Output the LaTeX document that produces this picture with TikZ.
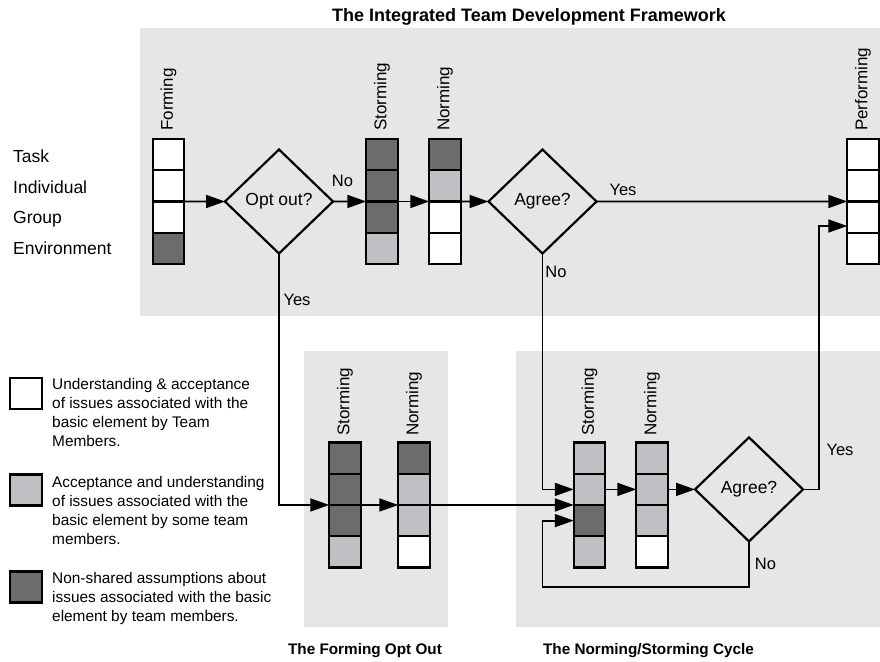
\documentclass[tikz,border=0pt]{standalone}
\usepackage{fontspec}
\setmainfont{Liberation Sans}
\usetikzlibrary{shapes.geometric, arrows.meta}
\definecolor{panelgray}{RGB}{230,230,230}
\definecolor{darkcell}{RGB}{108,108,108}
\definecolor{lightcell}{RGB}{191,192,195}
\tikzset{
  cell/.style={draw, line width=2.2pt, rectangle, minimum width=31.5pt, minimum height=31.25pt, inner sep=0pt, outer sep=0pt},
  wcell/.style={cell, fill=white},
  lcell/.style={cell, fill=lightcell},
  dcell/.style={cell, fill=darkcell},
  decision/.style={draw, line width=2.2pt, diamond, minimum width=108pt, minimum height=104pt, inner sep=0pt, outer sep=0pt, font=\fontsize{17.5}{20}\selectfont},
  stagelabel/.style={rotate=90, anchor=west, inner sep=0pt, font=\fontsize{17}{20}\selectfont},
  rowlabel/.style={anchor=base west, inner sep=0pt, font=\fontsize{17.5}{20}\selectfont},
  answer/.style={inner sep=0pt, font=\fontsize{16.5}{19}\selectfont},
  legendtext/.style={anchor=north west, align=left, inner sep=0pt, font=\fontsize{15.4}{19}\selectfont},
  heading/.style={anchor=base, inner sep=0pt, font=\bfseries\fontsize{18}{21}\selectfont},
  subheading/.style={anchor=base, inner sep=0pt, font=\bfseries\fontsize{15.3}{18}\selectfont},
  flow/.style={line width=1.8pt, -{Triangle[length=19pt, width=13pt]}},
}
\begin{document}
\begin{tikzpicture}[x=1pt, y=-1pt]
\useasboundingbox (0,0) rectangle (880,661);
\fill[white] (0,0) rectangle (880,661);
% panels
\fill[panelgray] (140,28) rectangle (880,316);
\fill[panelgray] (304,351) rectangle (448,627);
\fill[panelgray] (516,351) rectangle (880,627);
\node[heading] (title) at (529,22) {The Integrated Team Development Framework};
\node[subheading] (optouttitle) at (365,654) {The Forming Opt Out};
\node[subheading] (cycletitle) at (648.5,654) {The Norming/Storming Cycle};
% element names
\node[rowlabel] (task) at (13,162) {Task};
\node[rowlabel] (indiv) at (13,193) {Individual};
\node[rowlabel] (group) at (13,223.5) {Group};
\node[rowlabel] (env) at (13,254) {Environment};
% top row
\node[wcell] (f1) at (168.5,154.6) {};
\node[wcell] (f2) at (168.5,185.9) {};
\node[wcell] (f3) at (168.5,217.1) {};
\node[dcell] (f4) at (168.5,248.4) {};
\node[stagelabel] (flab) at (168.5,131) {Forming};
\node[decision] (opt) at (279,201.5) {Opt out?};
\node[dcell] (s1) at (382,154.6) {};
\node[dcell] (s2) at (382,185.9) {};
\node[dcell] (s3) at (382,217.1) {};
\node[lcell] (s4) at (382,248.4) {};
\node[stagelabel] (slab) at (382,131) {Storming};
\node[dcell] (n1) at (445,154.6) {};
\node[lcell] (n2) at (445,185.9) {};
\node[wcell] (n3) at (445,217.1) {};
\node[wcell] (n4) at (445,248.4) {};
\node[stagelabel] (nlab) at (445,131) {Norming};
\node[decision] (agree1) at (542.5,201.5) {Agree?};
\node[wcell] (p1) at (863,154.6) {};
\node[wcell] (p2) at (863,185.9) {};
\node[wcell] (p3) at (863,217.1) {};
\node[wcell] (p4) at (863,248.4) {};
\node[stagelabel] (plab) at (863,131) {Performing};
% forming opt out
\node[dcell] (os1) at (345,458.1) {};
\node[dcell] (os2) at (345,489.4) {};
\node[dcell] (os3) at (345,520.6) {};
\node[lcell] (os4) at (345,551.9) {};
\node[stagelabel] (oslab) at (345,436) {Storming};
\node[dcell] (on1) at (414,458.1) {};
\node[lcell] (on2) at (414,489.4) {};
\node[lcell] (on3) at (414,520.6) {};
\node[wcell] (on4) at (414,551.9) {};
\node[stagelabel] (onlab) at (414,436) {Norming};
% norming/storming cycle
\node[lcell] (cs1) at (589.5,458.1) {};
\node[lcell] (cs2) at (589.5,489.4) {};
\node[dcell] (cs3) at (589.5,520.6) {};
\node[lcell] (cs4) at (589.5,551.9) {};
\node[stagelabel] (cslab) at (589.5,436) {Storming};
\node[lcell] (cn1) at (652,458.1) {};
\node[lcell] (cn2) at (652,489.4) {};
\node[lcell] (cn3) at (652,520.6) {};
\node[wcell] (cn4) at (652,551.9) {};
\node[stagelabel] (cnlab) at (652,436) {Norming};
\node[decision] (agree2) at (749,489.4) {Agree?};
\coordinate (yesup) at (819,226);
\coordinate (loopcorner) at (542.5,587);
% answers
\node[answer] (no1) at (342.5,181) {No};
\node[answer] (yes1) at (623,190) {Yes};
\node[answer] (no2) at (556,271.5) {No};
\node[answer] (yes3) at (297,300) {Yes};
\node[answer] (yes2) at (840,450) {Yes};
\node[answer] (no3) at (765.5,563.5) {No};
% connectors
\draw[flow] (f3.north east) -- (opt.west);
\draw[flow] (opt.east) -- (s3.north west);
\draw[flow] (s3.north east) -- (n3.north west);
\draw[flow] (n3.north east) -- (agree1.west);
\draw[flow] (agree1.east) -- (p3.north west);
\draw[flow] (agree1.south) |- (cs2.west);
\draw[flow] (opt.south) |- (os3.north west);
\draw[flow] (os3.north east) -- (on3.north west);
\draw[flow] (on3.north east) -- (cs3.north west);
\draw[flow] (cs2.east) -- (cn2.west);
\draw[flow] (cn2.east) -- (agree2.west);
\draw[flow] (agree2.east) -| (yesup) -- (yesup -| p3.west);
\draw[flow] (agree2.south) |- (loopcorner) |- (cs3.west);
% legend
\node[wcell, minimum width=32pt, minimum height=31pt] (keyw) at (26,393.5) {};
\node[lcell, minimum width=32pt, minimum height=31pt] (keyl) at (26,490) {};
\node[dcell, minimum width=32pt, minimum height=31pt] (keyd) at (26,587) {};
\node[legendtext] (textw) at (52,378) {Understanding \& acceptance\\of issues associated with the\\basic element by Team\\Members.};
\node[legendtext] (textl) at (52,476) {Acceptance and understanding\\of issues associated with the\\basic element by some team\\members.};
\node[legendtext] (textd) at (52,572) {Non-shared assumptions about\\issues associated with the basic\\element by team members.};
\end{tikzpicture}
\end{document}
